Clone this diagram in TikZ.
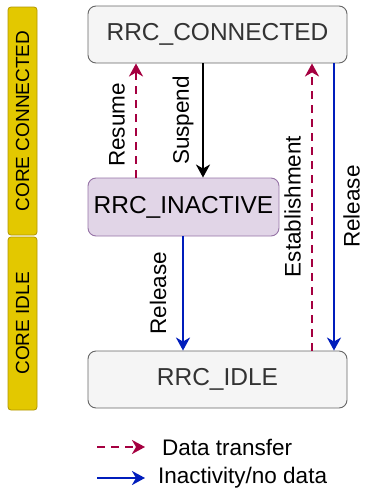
\documentclass[tikz,border=0pt]{standalone}
\usepackage{fontspec}
\setmainfont{Liberation Sans}
\usetikzlibrary{arrows.meta}
\definecolor{grayfill}{HTML}{F5F5F5}
\definecolor{grayline}{HTML}{666666}
\definecolor{graytext}{HTML}{333333}
\definecolor{purfill}{HTML}{E1D5E7}
\definecolor{purline}{HTML}{9673A6}
\definecolor{yelfill}{HTML}{E3C800}
\definecolor{yelline}{HTML}{B09500}
\definecolor{crim}{HTML}{A50040}
\definecolor{blu}{HTML}{001DBC}
\tikzset{
  state/.style={rounded corners=8pt, line width=0.9pt, inner sep=0pt,
    font=\fontsize{24.5}{29}\selectfont},
  graystate/.style={state, draw=grayline, fill=grayfill, text=graytext,
    minimum width=259pt, minimum height=57pt},
  bar/.style={rounded corners=3pt, draw=yelline, fill=yelfill, line width=0.8pt,
    minimum width=29pt, inner sep=0pt},
  bartext/.style={rotate=90, font=\fontsize{19}{22}\selectfont},
  lbl/.style={rotate=90, font=\fontsize{22.5}{26}\selectfont, inner sep=0pt},
  tip/.style={-{Stealth[length=13pt,width=14pt,inset=4pt]}},
  data/.style={tip, draw=crim, line width=2.3pt, dash pattern=on 8pt off 6pt},
  inact/.style={tip, draw=blu, line width=2.3pt},
  susp/.style={tip, draw=black, line width=2.3pt},
}
\begin{document}
\begin{tikzpicture}[x=1pt,y=-1pt]
\useasboundingbox (0,0) rectangle (365,490);
% bars
\node[bar, minimum height=228pt] (barc) at (22.5,121) {};
\node[bartext] (barct) at (barc.center) {CORE CONNECTED};
\node[bar, minimum height=173pt] (bari) at (22.5,323.5) {};
\node[bartext] (barit) at (bari.center) {CORE IDLE};
% states
\node[graystate] (conn) at (217.5,34.5) {RRC\_CONNECTED};
\node[state, draw=purline, fill=purfill, text=black,
  minimum width=191pt, minimum height=58pt] (inac) at (183.5,207) {RRC\_INACTIVE};
\node[graystate] (idle) at (217.5,379.5) {RRC\_IDLE};
% connectors
\draw[data] (inac.north -| 136,0) -- (conn.south -| 136,0);
\draw[susp] (conn.south -| 203,0) -- (inac.north -| 203,0);
\draw[data] (idle.north -| 312,0) -- (conn.south -| 312,0);
\draw[inact] (conn.south -| 334,0) -- (idle.north -| 334,0);
\draw[inact] (inac.south -| 183,0) -- (idle.north -| 183,0);
% labels
\node[lbl] (lres) at (117,125) {Resume};
\node[lbl] (lsus) at (183,120.5) {Suspend};
\node[lbl] (lest) at (292.5,206.5) {Establishment};
\node[lbl] (lrel1) at (351.5,206.5) {Release};
\node[lbl] (lrel2) at (158,293) {Release};
% legend
\coordinate (d1) at (97,447);
\coordinate (d2) at (145,447);
\coordinate (b1) at (97,478);
\coordinate (b2) at (145,478);
\draw[data] (d1) -- (d2);
\draw[inact] (b1) -- (b2);
\node[anchor=west, inner sep=0pt, font=\fontsize{22.5}{26}\selectfont] (ldt) at (162,447) {Data transfer};
\node[anchor=west, inner sep=0pt, font=\fontsize{22.5}{26}\selectfont] (lin) at (158,478) {Inactivity/no data};
\end{tikzpicture}
\end{document}
